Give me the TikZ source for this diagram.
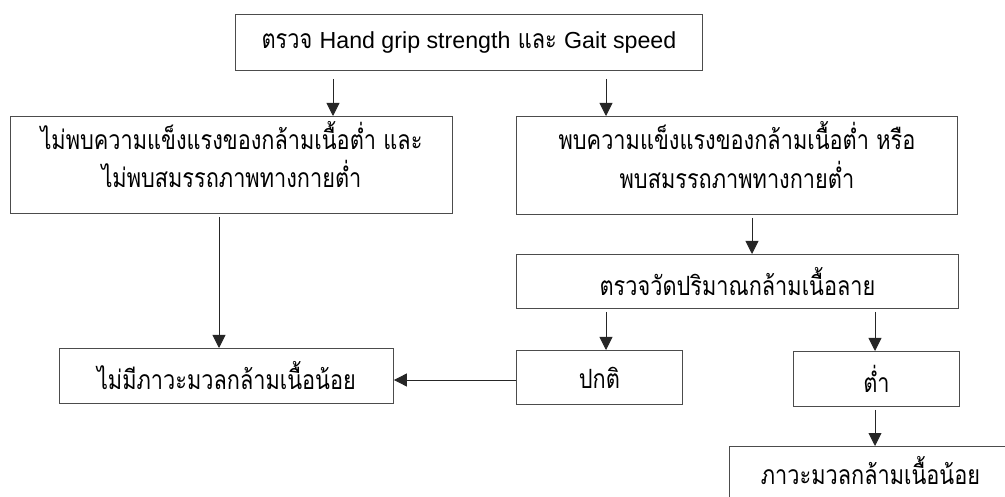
\documentclass[tikz,border=0pt]{standalone}
\usepackage{fontspec}
\setmainfont{Liberation Sans}
\newfontfamily\thaifont[Script=Thai, FakeStretch=0.82]{Loma}
\usetikzlibrary{arrows.meta}
\newcommand{\twolines}[2]{\raisebox{5pt}[\height][\depth]{\begin{tabular}{@{}c@{}}#1\\#2\end{tabular}}}
\newcommand{\liftup}[1]{\raisebox{6pt}[\height][\depth]{#1}}
\begin{document}
\begin{tikzpicture}[x=1pt,y=-1pt,
  box/.style={draw=black!70, line width=0.9pt, inner sep=0pt, anchor=north west, align=center},
  arr/.style={draw=black!85, line width=0.9pt, -{Triangle[width=13pt,length=13pt]}, shorten <=3pt},
  tt/.style={font=\thaifont\fontsize{26.5}{37}\selectfont}]
\useasboundingbox (0,0) rectangle (1005,497);
\clip (0,0) rectangle (1005,497);
\node[box, minimum width=467pt, minimum height=56pt, tt] (b1) at (235,14) {ตรวจ {\rmfamily\fontsize{23.2}{26}\selectfont Hand grip strength} และ {\rmfamily\fontsize{23.2}{26}\selectfont Gait speed}};
\node[box, minimum width=442pt, minimum height=97pt, tt] (b2) at (10,116) {\twolines{ไม่พบความแข็งแรงของกล้ามเนื้อต่ำ และ}{ไม่พบสมรรถภาพทางกายต่ำ}};
\node[box, minimum width=441pt, minimum height=98pt, tt] (b3) at (516,116) {\twolines{พบความแข็งแรงของกล้ามเนื้อต่ำ หรือ}{พบสมรรถภาพทางกายต่ำ}};
\node[box, minimum width=442pt, minimum height=54pt, tt] (b4) at (516,254) {ตรวจวัดปริมาณกล้ามเนื้อลาย};
\node[box, minimum width=166pt, minimum height=54pt, tt] (b5) at (516,350) {ปกติ};
\node[box, minimum width=166pt, minimum height=55pt, tt] (b6) at (793,351) {ต่ำ};
\node[box, minimum width=282pt, minimum height=60pt, tt] (b7) at (729,446) {\liftup{ภาวะมวลกล้ามเนื้อน้อย}};
\node[box, minimum width=334pt, minimum height=55pt, tt] (b8) at (59,348) {ไม่มีภาวะมวลกล้ามเนื้อน้อย};
\coordinate (xa) at (333,0);
\coordinate (xb) at (606,0);
\coordinate (xc) at (752,0);
\coordinate (xd) at (219,0);
\coordinate (xe) at (875,0);
\coordinate (yr) at (0,380);
\draw[arr, shorten <=8pt] (b1.south -| xa) -- (b2.north -| xa);
\draw[arr, shorten <=8pt] (b1.south -| xb) -- (b3.north -| xb);
\draw[arr] (b3.south -| xc) -- (b4.north -| xc);
\draw[arr] (b2.south -| xd) -- (b8.north -| xd);
\draw[arr] (b4.south -| xb) -- (b5.north -| xb);
\draw[arr] (b4.south -| xe) -- (b6.north -| xe);
\draw[arr] (b6.south -| xe) -- (b7.north -| xe);
\draw[arr, shorten <=0pt] (b5.west |- yr) -- (b8.east |- yr);
\end{tikzpicture}
\end{document}
